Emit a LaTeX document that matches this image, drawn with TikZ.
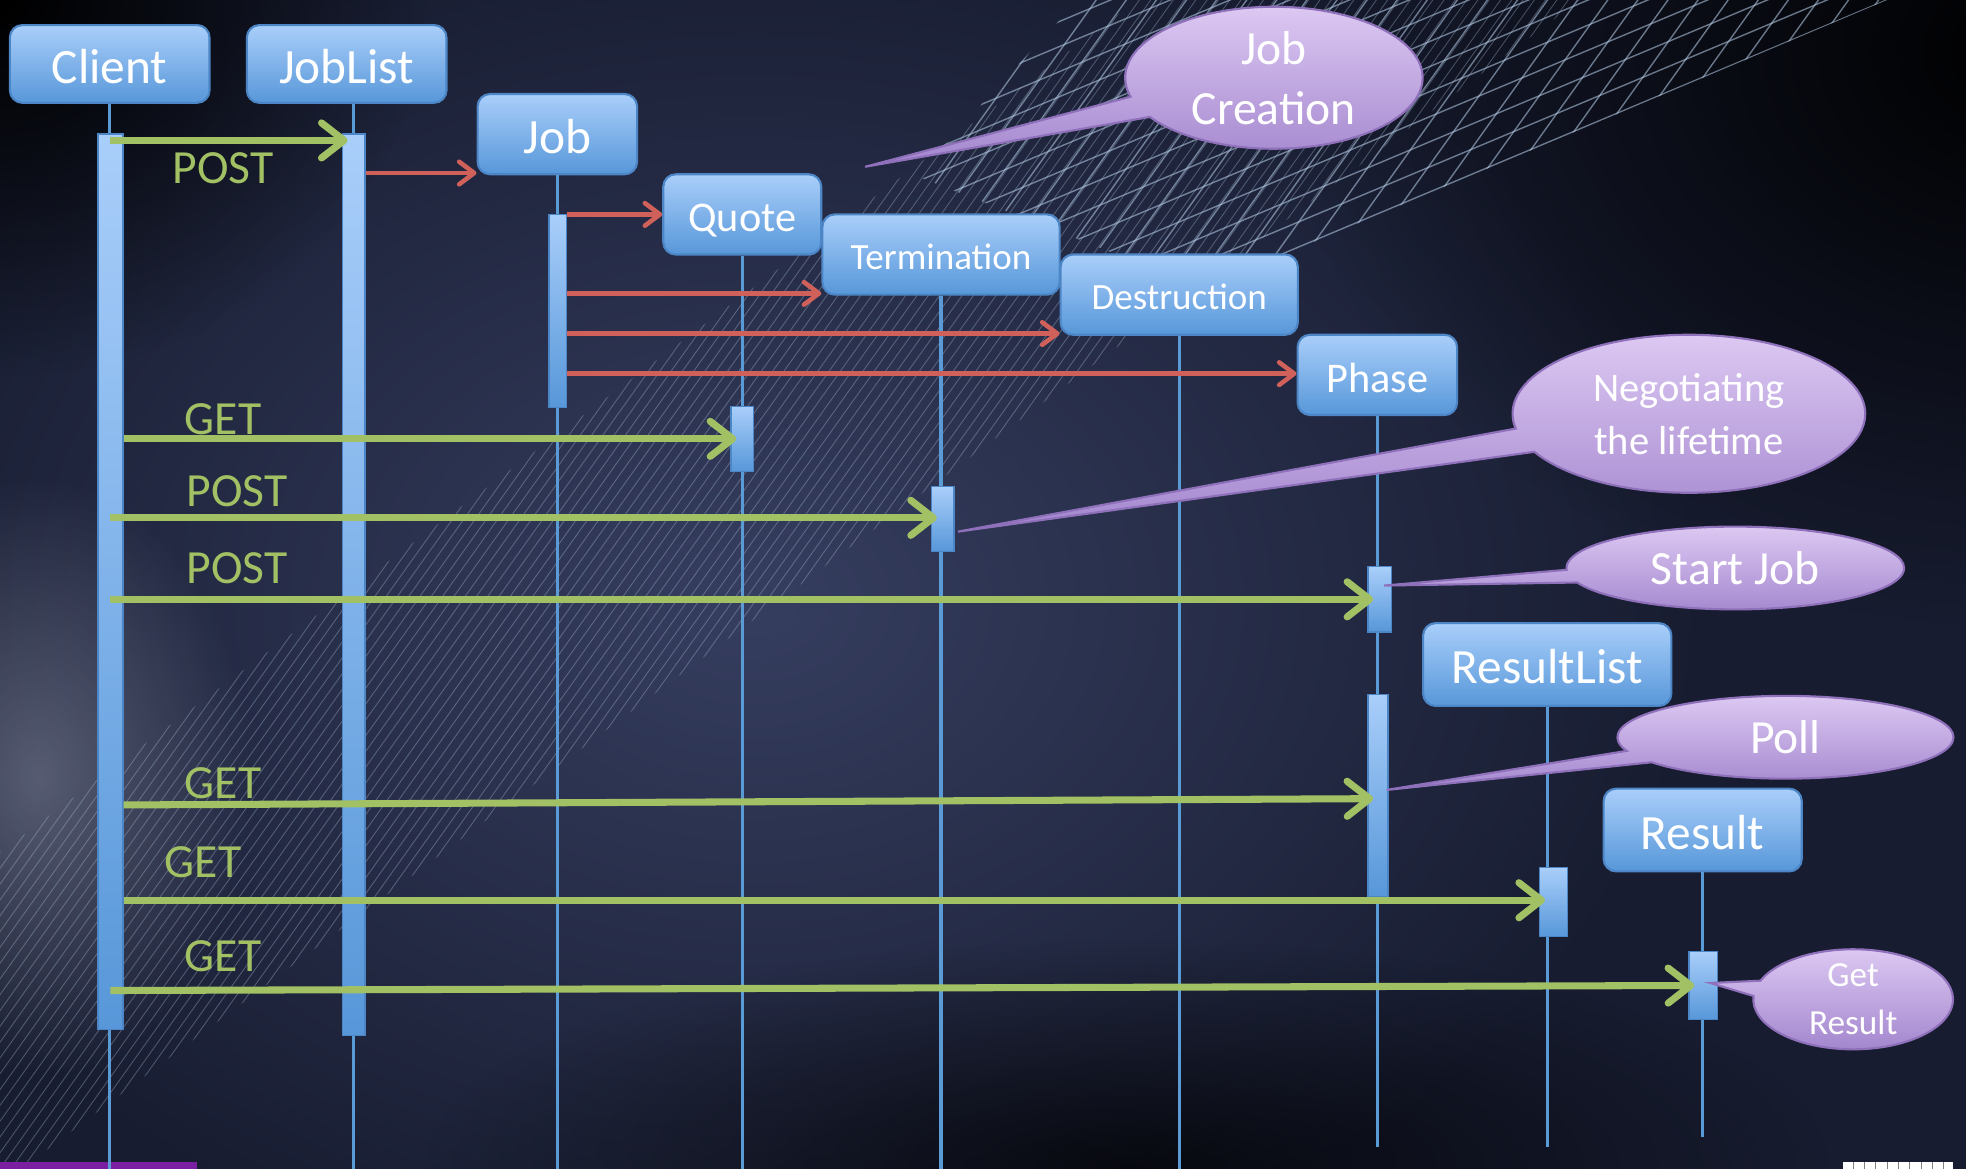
\documentclass[tikz,border=0pt]{standalone}
\usepackage{fontspec}
\setmainfont{Carlito}
\usetikzlibrary{arrows.meta,fit,fadings,shapes.callouts}

\definecolor{bgbase}{HTML}{171C30}
\definecolor{bgglow}{HTML}{363E60}
\definecolor{boxtop}{HTML}{A9CEFA}
\definecolor{boxbot}{HTML}{5797D9}
\definecolor{boxedge}{HTML}{4D86C6}
\definecolor{lifeblue}{HTML}{5B9BD5}
\definecolor{msggreen}{HTML}{A2C064}
\definecolor{callred}{HTML}{D0605A}
\definecolor{notetop}{HTML}{DCC8F2}
\definecolor{notebot}{HTML}{A386CE}
\definecolor{noteedge}{HTML}{8F70BA}
\definecolor{hatchline}{HTML}{B8CFEA}
\definecolor{purplebar}{HTML}{7A1FA2}

\tikzfading[name=glowfade, inner color=transparent!0, outer color=transparent!100]

\begin{document}
\begin{tikzpicture}[
	x=0.025cm, y=-0.025cm,
	lifebox/.style={ rectangle, rounded corners=0.25cm, draw=boxedge, line width=1.2pt, top color=boxtop, bottom color=boxbot, text=white, inner sep=0pt, minimum height=1.6cm, text depth=0pt },
	bigbox/.style={ lifebox, font=\fontsize{28}{34}\selectfont, text height=22pt },
	midbox/.style={ lifebox, font=\fontsize{24}{29}\selectfont, text height=19.5pt },
	smallbox/.style={ lifebox, font=\fontsize{21}{25}\selectfont, text height=16.5pt },
	bar/.style={ rectangle, draw=boxedge, line width=0.8pt, top color=boxtop, bottom color=boxbot, inner sep=0pt },
	lifeline/.style={ draw=lifeblue, line width=1.8pt },
	msg/.style={ draw=msggreen, line width=4pt, -{Straight Barb[length=0.45cm,width=0.7cm,round]}, shorten >=-0.12cm },
	create/.style={ draw=callred, line width=2.6pt, -{Straight Barb[length=0.3cm,width=0.45cm,round]} },
	msglabel/.style={ text=msggreen, font=\fontsize{27}{32}\selectfont },
	note/.style={ ellipse callout, draw=noteedge, line width=1.2pt, top color=notetop, bottom color=notebot, text=white, align=center, inner sep=0pt, callout pointer arc=18 },
	hatch/.style={ draw=hatchline, line width=0.5pt, opacity=0.32 },
	mesh/.style={ draw=hatchline, line width=0.8pt, opacity=0.55 }
]
\useasboundingbox (0,0) rectangle (1568,932);

% background
\begin{scope}
  \clip (0,0) rectangle (1568,932);
  \fill[bgbase] (0,0) rectangle (1568,932);
  \shade[inner color=bgglow, outer color=bgbase] (600,480) ellipse (760 and 560);
  \fill[black, path fading=glowfade] (1620,40) ellipse (600 and 460);
  \fill[black, path fading=glowfade] (0,0) ellipse (340 and 300);
  \fill[black, path fading=glowfade, opacity=0.7] (900,930) ellipse (560 and 180);
  \fill[bgglow!60!white, path fading=glowfade, opacity=0.55] (30,620) ellipse (170 and 240);
  \begin{scope}
    \clip (0,680) -- (907,0) -- (1260,0) -- (0,945) -- cycle;
    \foreach \i in {-900,-891,...,1600}
      \draw[hatch] (\i,932) -- ++(700,-980);
  \end{scope}
  \begin{scope}
    \clip (730,140) -- (860,0) -- (1505,0) -- (960,230) -- cycle;
    \foreach \i in {300,324,...,1700}
      \draw[mesh] (\i,300) -- ++(300,-420);
    \foreach \j in {0,20,...,700}
      \draw[mesh] (600,\j) -- ++(1000,-420);
  \end{scope}
  \fill[purplebar] (0,927) rectangle (157,932);
  \fill[white] (1470,927) rectangle (1558,932);
  \foreach \x in {1478,1487,...,1550}
    \draw[gray, line width=0.4pt] (\x,927) -- (\x,932);
\end{scope}

% lifeline heads
\node[bigbox, minimum width=3.98cm, minimum height=1.55cm] at (87.5,51) (client) {Client};
\node[bigbox, minimum width=3.98cm, minimum height=1.55cm] at (276.5,51) (joblist) {JobList};
\node[bigbox, minimum width=3.18cm] at (444.5,107) (job) {Job};
\node[midbox, minimum width=3.15cm] at (592,171) (quote) {Quote};
\node[smallbox, minimum width=4.73cm] at (750.5,203) (term) {Termination};
\node[smallbox, minimum width=4.73cm] at (940.5,235) (destr) {Destruction};
\node[midbox, minimum width=3.18cm] at (1098.5,299) (phase) {Phase};
\node[bigbox, minimum width=4.95cm, minimum height=1.65cm] at (1234,530) (reslist) {ResultList};
\node[bigbox, minimum width=3.95cm, minimum height=1.65cm] at (1358,662) (result) {Result};

% lifelines
\foreach \n/\e in {client/932, job/932, quote/932, term/932, destr/932, phase/915, reslist/915, result/907}
  \draw[lifeline] (\n.south) -- (\n.south |- 0,\e);
\coordinate (jltop) at ([xshift=0.14cm]joblist.south);
\draw[lifeline] (jltop) -- (jltop |- 0,932);

% activation bars
\node[bar, fit={(78,107) (98,821)}] (clientbar) {};
\node[bar, fit={(273,107) (291,826)}] (joblistbar) {};
\node[bar, fit={(438,171) (452,325)}] (jobbar) {};
\node[bar, fit={(583,324) (601,376)}] (quotebar) {};
\node[bar, fit={(743,388) (761,440)}] (termbar) {};
\node[bar, fit={(1091,452) (1110,504)}] (phasebarA) {};
\node[bar, fit={(1091,554) (1107,715)}] (phasebarB) {};
\node[bar, fit={(1228,692) (1250,747)}] (reslistbar) {};
\node[bar, fit={(1347,759) (1370,813)}] (resultbar) {};

% creation calls
\draw[create] (joblistbar.east |- 0,138) -- (job.west |- 0,138);
\foreach \t/\y in {quote/171, term/234, destr/266, phase/298}
  \draw[create] (jobbar.east |- 0,\y) -- (\t.west |- 0,\y);

% client requests
\draw[msg] (clientbar.center |- 0,112) -- (joblistbar.west |- 0,112);
\draw[msg] (clientbar.east |- 0,350) -- (quotebar.west |- 0,350);
\draw[msg] (clientbar.center |- 0,413) -- (termbar.west |- 0,413);
\draw[msg] (clientbar.center |- 0,478) -- (phasebarA.west |- 0,478);
\draw[msg] (clientbar.east |- 0,642) -- (phasebarB.west |- 0,637);
\draw[msg] (clientbar.east |- 0,718) -- (reslistbar.west |- 0,718);
\draw[msg] (clientbar.center |- 0,790) -- (resultbar.west |- 0,786);

\node[msglabel] at (178,134) (lpostA) {POST};
\node[msglabel] at (178,334) (lgetA) {GET};
\node[msglabel] at (189,392) (lpostB) {POST};
\node[msglabel] at (189,453) (lpostC) {POST};
\node[msglabel] at (178,625) (lgetB) {GET};
\node[msglabel] at (162,688) (lgetC) {GET};
\node[msglabel] at (178,763) (lgetD) {GET};

% notes
\node[note, minimum width=5.93cm, minimum height=2.83cm, font=\fontsize{27}{34}\selectfont, callout absolute pointer={(690,133)}] at (1016,62) (njob) {Job\\Creation};
\node[note, minimum width=7.03cm, minimum height=3.15cm, font=\fontsize{23}{30}\selectfont, callout absolute pointer={(764,424)}] at (1347,330) (nlife) {Negotiating\\the lifetime};
\node[note, minimum width=6.73cm, minimum height=1.65cm, font=\fontsize{27}{32}\selectfont, callout absolute pointer={(1104,467)}] at (1384,453) (nstart) {Start Job};
\node[note, minimum width=6.7cm, minimum height=1.65cm, font=\fontsize{27}{32}\selectfont, callout absolute pointer={(1106,630)}] at (1424,588) (npoll) {Poll};
\node[note, minimum width=3.98cm, minimum height=1.95cm, font=\fontsize{20}{27}\selectfont, callout absolute pointer={(1364,784)}] at (1478,797) (nget) {Get\\Result};

\end{tikzpicture}
\end{document}
